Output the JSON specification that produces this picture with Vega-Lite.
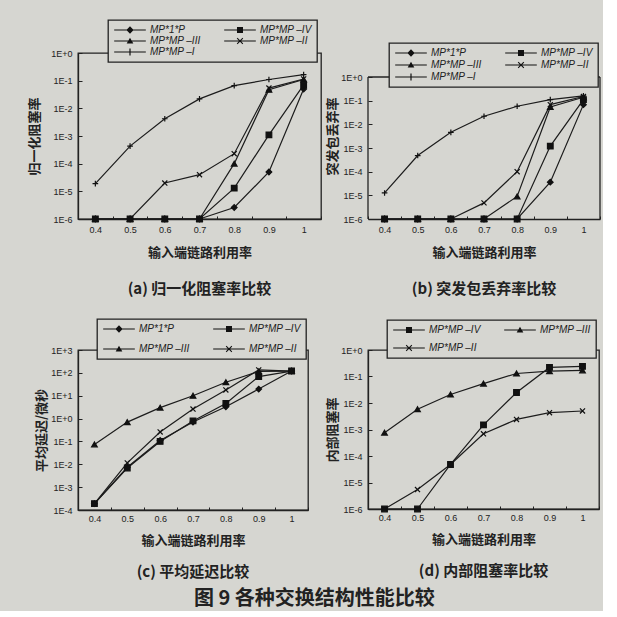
{
"$schema": "https://vega.github.io/schema/vega-lite/v6.json",
"background": "#d6d6d1",
"padding": {"left": 28, "top": 18, "right": 2, "bottom": 2},
"title": {"text": "图 9 各种交换结构性能比较", "orient": "bottom", "fontSize": 20, "offset": 8, "anchor": "middle"},
"datasets": {
"a": [
{"s":"MP*1*P","x":0.4,"y":1e-6},{"s":"MP*1*P","x":0.5,"y":1e-6},{"s":"MP*1*P","x":0.6,"y":1e-6},{"s":"MP*1*P","x":0.7,"y":1e-6},{"s":"MP*1*P","x":0.8,"y":2.6e-6},{"s":"MP*1*P","x":0.9,"y":5e-5},{"s":"MP*1*P","x":1,"y":0.05},
{"s":"MP*MP –III","x":0.4,"y":1e-6},{"s":"MP*MP –III","x":0.5,"y":1e-6},{"s":"MP*MP –III","x":0.6,"y":1e-6},{"s":"MP*MP –III","x":0.7,"y":1e-6},{"s":"MP*MP –III","x":0.8,"y":1e-4},{"s":"MP*MP –III","x":0.9,"y":0.047},{"s":"MP*MP –III","x":1,"y":0.11},
{"s":"MP*MP –II","x":0.4,"y":1e-6},{"s":"MP*MP –II","x":0.5,"y":1e-6},{"s":"MP*MP –II","x":0.6,"y":2e-5},{"s":"MP*MP –II","x":0.7,"y":4e-5},{"s":"MP*MP –II","x":0.8,"y":2.3e-4},{"s":"MP*MP –II","x":0.9,"y":0.054},{"s":"MP*MP –II","x":1,"y":0.115},
{"s":"MP*MP –I","x":0.4,"y":1.9e-5},{"s":"MP*MP –I","x":0.5,"y":4.3e-4},{"s":"MP*MP –I","x":0.6,"y":4.2e-3},{"s":"MP*MP –I","x":0.7,"y":0.022},{"s":"MP*MP –I","x":0.8,"y":0.066},{"s":"MP*MP –I","x":0.9,"y":0.11},{"s":"MP*MP –I","x":1,"y":0.165},
{"s":"MP*MP –IV","x":0.4,"y":1e-6},{"s":"MP*MP –IV","x":0.5,"y":1e-6},{"s":"MP*MP –IV","x":0.6,"y":1e-6},{"s":"MP*MP –IV","x":0.7,"y":1e-6},{"s":"MP*MP –IV","x":0.8,"y":1.3e-5},{"s":"MP*MP –IV","x":0.9,"y":1.1e-3},{"s":"MP*MP –IV","x":1,"y":0.07}
],
"b": [
{"s":"MP*1*P","x":0.4,"y":1e-6},{"s":"MP*1*P","x":0.5,"y":1e-6},{"s":"MP*1*P","x":0.6,"y":1e-6},{"s":"MP*1*P","x":0.7,"y":1e-6},{"s":"MP*1*P","x":0.8,"y":1e-6},{"s":"MP*1*P","x":0.9,"y":3.6e-5},{"s":"MP*1*P","x":1,"y":0.068},
{"s":"MP*MP –III","x":0.4,"y":1e-6},{"s":"MP*MP –III","x":0.5,"y":1e-6},{"s":"MP*MP –III","x":0.6,"y":1e-6},{"s":"MP*MP –III","x":0.7,"y":1e-6},{"s":"MP*MP –III","x":0.8,"y":9e-6},{"s":"MP*MP –III","x":0.9,"y":0.054},{"s":"MP*MP –III","x":1,"y":0.14},
{"s":"MP*MP –II","x":0.4,"y":1e-6},{"s":"MP*MP –II","x":0.5,"y":1e-6},{"s":"MP*MP –II","x":0.6,"y":1e-6},{"s":"MP*MP –II","x":0.7,"y":4.8e-6},{"s":"MP*MP –II","x":0.8,"y":1e-4},{"s":"MP*MP –II","x":0.9,"y":0.068},{"s":"MP*MP –II","x":1,"y":0.15},
{"s":"MP*MP –I","x":0.4,"y":1.26e-5},{"s":"MP*MP –I","x":0.5,"y":4.8e-4},{"s":"MP*MP –I","x":0.6,"y":4.6e-3},{"s":"MP*MP –I","x":0.7,"y":0.022},{"s":"MP*MP –I","x":0.8,"y":0.058},{"s":"MP*MP –I","x":0.9,"y":0.11},{"s":"MP*MP –I","x":1,"y":0.16},
{"s":"MP*MP –IV","x":0.4,"y":1e-6},{"s":"MP*MP –IV","x":0.5,"y":1e-6},{"s":"MP*MP –IV","x":0.6,"y":1e-6},{"s":"MP*MP –IV","x":0.7,"y":1e-6},{"s":"MP*MP –IV","x":0.8,"y":1e-6},{"s":"MP*MP –IV","x":0.9,"y":1.2e-3},{"s":"MP*MP –IV","x":1,"y":0.11}
],
"c": [
{"s":"MP*1*P","x":0.4,"y":1.9e-4},{"s":"MP*1*P","x":0.5,"y":7.4e-3},{"s":"MP*1*P","x":0.6,"y":0.11},{"s":"MP*1*P","x":0.7,"y":0.71},{"s":"MP*1*P","x":0.8,"y":3.3},{"s":"MP*1*P","x":0.9,"y":19.5},{"s":"MP*1*P","x":1,"y":120},
{"s":"MP*MP –III","x":0.4,"y":0.074},{"s":"MP*MP –III","x":0.5,"y":0.7},{"s":"MP*MP –III","x":0.6,"y":3.0},{"s":"MP*MP –III","x":0.7,"y":10},{"s":"MP*MP –III","x":0.8,"y":39},{"s":"MP*MP –III","x":0.9,"y":115},{"s":"MP*MP –III","x":1,"y":120},
{"s":"MP*MP –II","x":0.4,"y":1.9e-4},{"s":"MP*MP –II","x":0.5,"y":0.0115},{"s":"MP*MP –II","x":0.6,"y":0.26},{"s":"MP*MP –II","x":0.7,"y":2.6},{"s":"MP*MP –II","x":0.8,"y":17.8},{"s":"MP*MP –II","x":0.9,"y":135},{"s":"MP*MP –II","x":1,"y":120},
{"s":"MP*MP –IV","x":0.4,"y":1.9e-4},{"s":"MP*MP –IV","x":0.5,"y":6.9e-3},{"s":"MP*MP –IV","x":0.6,"y":0.1},{"s":"MP*MP –IV","x":0.7,"y":0.79},{"s":"MP*MP –IV","x":0.8,"y":4.6},{"s":"MP*MP –IV","x":0.9,"y":69},{"s":"MP*MP –IV","x":1,"y":120}
],
"d": [
{"s":"MP*MP –III","x":0.4,"y":7.6e-4},{"s":"MP*MP –III","x":0.5,"y":5.8e-3},{"s":"MP*MP –III","x":0.6,"y":0.021},{"s":"MP*MP –III","x":0.7,"y":0.054},{"s":"MP*MP –III","x":0.8,"y":0.13},{"s":"MP*MP –III","x":0.9,"y":0.16},{"s":"MP*MP –III","x":1,"y":0.17},
{"s":"MP*MP –II","x":0.4,"y":1e-6},{"s":"MP*MP –II","x":0.5,"y":5.4e-6},{"s":"MP*MP –II","x":0.6,"y":4.8e-5},{"s":"MP*MP –II","x":0.7,"y":6.9e-4},{"s":"MP*MP –II","x":0.8,"y":2.4e-3},{"s":"MP*MP –II","x":0.9,"y":4.3e-3},{"s":"MP*MP –II","x":1,"y":5e-3},
{"s":"MP*MP –IV","x":0.4,"y":1e-6},{"s":"MP*MP –IV","x":0.5,"y":1e-6},{"s":"MP*MP –IV","x":0.6,"y":4.8e-5},{"s":"MP*MP –IV","x":0.7,"y":1.5e-3},{"s":"MP*MP –IV","x":0.8,"y":0.025},{"s":"MP*MP –IV","x":0.9,"y":0.22},{"s":"MP*MP –IV","x":1,"y":0.24}
]
},
"concat": [
{
"width": 243, "height": 166,
"view": {"stroke": "#222", "strokeWidth": 1.3},
"data": {"name": "a"},
"title": {"text": "(a) 归一化阻塞率比较", "orient": "bottom", "offset": 23},
"encoding": {
"x": {"field": "x", "type": "ordinal", "scale": {"type": "band", "paddingInner": 0, "paddingOuter": 0}, "axis": {"title": "输入端链路利用率", "titlePadding": 12}},
"y": {"field": "y", "type": "quantitative", "scale": {"type": "log", "domain": [1e-6, 1]}, "axis": {"title": "归一化阻塞率", "titlePadding": 9, "values": [1e-6,1e-5,1e-4,1e-3,1e-2,1e-1,1]}}
},
"layer": [
{"mark": {"type": "line", "color": "#1c1c1c", "strokeWidth": 1.2}, "encoding": {"detail": {"field": "s"}}},
{"mark": {"type": "point", "filled": true, "color": "#111", "stroke": "#111", "strokeWidth": 1.2, "size": 32, "opacity": 1}, "encoding": {"shape": {"field": "s", "type": "nominal", "scale": {"domain": ["MP*1*P","MP*MP –III","MP*MP –I","MP*MP –IV","MP*MP –II"], "range": ["diamond","triangle-up","M0,-1L0,1M-1,0L1,0","square","M-0.9,-0.9L0.9,0.9M-0.9,0.9L0.9,-0.9"]}, "legend": null}}},
{"transform": [{"filter": "false"}], "mark": {"type": "point", "filled": true, "fill": "#111"}, "encoding": {"shape": {"field": "s", "type": "nominal", "scale": {"domain": ["MP*1*P","MP*MP –III","MP*MP –I","MP*MP –IV","MP*MP –II"], "range": ["M-5,-0.19L5,-0.19L5,0.19L-5,0.19ZM0,-1.15L1.15,0L0,1.15L-1.15,0Z","M-5,-0.19L5,-0.19L5,0.19L-5,0.19ZM0,-1.05L1.05,0.8L-1.05,0.8Z","M-5,-0.19L5,-0.19L5,0.19L-5,0.19ZM-0.19,-1.1L0.19,-1.1L0.19,1.1L-0.19,1.1Z","M-5,-0.19L5,-0.19L5,0.19L-5,0.19ZM-0.95,-0.95L0.95,-0.95L0.95,0.95L-0.95,0.95Z","M-5,-0.19L5,-0.19L5,0.19L-5,0.19ZM-0.78,-1.02L1.02,0.78L0.78,1.02L-1.02,-0.78ZM-1.02,0.78L0.78,-1.02L1.02,-0.78L-0.78,1.02Z"]}, "legend": {"title": null, "orient": "none", "legendX": 30, "legendY": -33, "columns": 2, "rowPadding": 1, "encode": {"symbols": {"update": {"fill": {"value": "#111"}, "opacity": {"value": 1}}}}}}}}
],
"resolve": {"scale": {"shape": "independent"}, "legend": {"shape": "independent"}}
},
{
"width": 232, "height": 166,
"view": {"stroke": null},
"title": {"text": "(b) 突发包丢弃率比较", "orient": "bottom", "offset": 23},
"layer": [
{"data": {"values": [{"t": 1}]}, "mark": {"type": "rule", "color": "#222", "strokeWidth": 1.3}, "encoding": {"y": {"datum": 1, "type": "quantitative"}}},
{"data": {"values": [{"t": 1}]}, "mark": {"type": "rule", "color": "#222", "strokeWidth": 1.3}, "encoding": {"x": {"datum": 0.4, "type": "ordinal", "bandPosition": 0}, "y": {"datum": 1e-6, "type": "quantitative"}, "y2": {"datum": 1}}},
{"data": {"values": [{"t": 1}]}, "mark": {"type": "rule", "color": "#222", "strokeWidth": 1.3}, "encoding": {"x": {"datum": 1, "type": "ordinal", "bandPosition": 1}, "y": {"datum": 1e-6, "type": "quantitative"}, "y2": {"datum": 1}}},
{"data": {"name": "b"}, "mark": {"type": "line", "color": "#1c1c1c", "strokeWidth": 1.2}, "encoding": {
"x": {"field": "x", "type": "ordinal", "scale": {"type": "band", "paddingInner": 0, "paddingOuter": 0}, "axis": {"title": "输入端链路利用率", "titlePadding": 12}},
"y": {"field": "y", "type": "quantitative", "scale": {"type": "log", "domain": [1e-6, 10.33], "nice": false}, "axis": {"title": "突发包丢弃率", "titlePadding": 1, "domain": false, "values": [1e-6,1e-5,1e-4,1e-3,1e-2,1e-1,1]}},
"detail": {"field": "s"}}},
{"data": {"name": "b"}, "mark": {"type": "point", "filled": true, "color": "#111", "stroke": "#111", "strokeWidth": 1.2, "size": 32, "opacity": 1}, "encoding": {"x": {"field": "x", "type": "ordinal"}, "y": {"field": "y", "type": "quantitative"}, "shape": {"field": "s", "type": "nominal", "scale": {"domain": ["MP*1*P","MP*MP –III","MP*MP –I","MP*MP –IV","MP*MP –II"], "range": ["diamond","triangle-up","M0,-1L0,1M-1,0L1,0","square","M-0.9,-0.9L0.9,0.9M-0.9,0.9L0.9,-0.9"]}, "legend": null}}},
{"data": {"name": "b"}, "transform": [{"filter": "false"}], "mark": {"type": "point", "filled": true, "fill": "#111"}, "encoding": {"x": {"field": "x", "type": "ordinal"}, "y": {"field": "y", "type": "quantitative"}, "shape": {"field": "s", "type": "nominal", "scale": {"domain": ["MP*1*P","MP*MP –III","MP*MP –I","MP*MP –IV","MP*MP –II"], "range": ["M-5,-0.19L5,-0.19L5,0.19L-5,0.19ZM0,-1.15L1.15,0L0,1.15L-1.15,0Z","M-5,-0.19L5,-0.19L5,0.19L-5,0.19ZM0,-1.05L1.05,0.8L-1.05,0.8Z","M-5,-0.19L5,-0.19L5,0.19L-5,0.19ZM-0.19,-1.1L0.19,-1.1L0.19,1.1L-0.19,1.1Z","M-5,-0.19L5,-0.19L5,0.19L-5,0.19ZM-0.95,-0.95L0.95,-0.95L0.95,0.95L-0.95,0.95Z","M-5,-0.19L5,-0.19L5,0.19L-5,0.19ZM-0.78,-1.02L1.02,0.78L0.78,1.02L-1.02,-0.78ZM-1.02,0.78L0.78,-1.02L1.02,-0.78L-0.78,1.02Z"]}, "legend": {"title": null, "orient": "none", "legendX": 21, "legendY": -10, "columns": 2, "rowPadding": 2, "encode": {"symbols": {"update": {"fill": {"value": "#111"}, "opacity": {"value": 1}}}}}}}}
],
"resolve": {"scale": {"shape": "independent"}, "legend": {"shape": "independent"}}
},
{
"width": 230, "height": 160,
"view": {"stroke": "#222", "strokeWidth": 1.3},
"data": {"name": "c"},
"title": {"text": "(c) 平均延迟比较", "orient": "bottom", "offset": 18},
"encoding": {
"x": {"field": "x", "type": "ordinal", "scale": {"type": "band", "paddingInner": 0, "paddingOuter": 0}, "axis": {"title": "输入端链路利用率", "labelPadding": 7, "titlePadding": 11}},
"y": {"field": "y", "type": "quantitative", "scale": {"type": "log", "domain": [1e-4, 1000]}, "axis": {"title": "平均延迟/微秒", "titlePadding": 2, "values": [1e-4,1e-3,1e-2,1e-1,1,10,100,1000]}}
},
"layer": [
{"mark": {"type": "line", "color": "#1c1c1c", "strokeWidth": 1.2}, "encoding": {"detail": {"field": "s"}}},
{"mark": {"type": "point", "filled": true, "color": "#111", "stroke": "#111", "strokeWidth": 1.2, "size": 32, "opacity": 1}, "encoding": {"shape": {"field": "s", "type": "nominal", "scale": {"domain": ["MP*1*P","MP*MP –III","MP*MP –IV","MP*MP –II"], "range": ["diamond","triangle-up","square","M-0.9,-0.9L0.9,0.9M-0.9,0.9L0.9,-0.9"]}, "legend": null}}},
{"transform": [{"filter": "false"}], "mark": {"type": "point", "filled": true, "fill": "#111"}, "encoding": {"shape": {"field": "s", "type": "nominal", "scale": {"domain": ["MP*1*P","MP*MP –III","MP*MP –IV","MP*MP –II"], "range": ["M-5,-0.19L5,-0.19L5,0.19L-5,0.19ZM0,-1.15L1.15,0L0,1.15L-1.15,0Z","M-5,-0.19L5,-0.19L5,0.19L-5,0.19ZM0,-1.05L1.05,0.8L-1.05,0.8Z","M-5,-0.19L5,-0.19L5,0.19L-5,0.19ZM-0.95,-0.95L0.95,-0.95L0.95,0.95L-0.95,0.95Z","M-5,-0.19L5,-0.19L5,0.19L-5,0.19ZM-0.78,-1.02L1.02,0.78L0.78,1.02L-1.02,-0.78ZM-1.02,0.78L0.78,-1.02L1.02,-0.78L-0.78,1.02Z"]}, "legend": {"title": null, "orient": "none", "legendX": 19, "legendY": -31, "columns": 2, "rowPadding": 10, "encode": {"symbols": {"update": {"fill": {"value": "#111"}, "opacity": {"value": 1}}}}}}}}
],
"resolve": {"scale": {"shape": "independent"}, "legend": {"shape": "independent"}}
},
{
"width": 231, "height": 159,
"view": {"stroke": "#222", "strokeWidth": 1.3},
"data": {"name": "d"},
"title": {"text": "(d) 内部阻塞率比较", "orient": "bottom", "offset": 18},
"encoding": {
"x": {"field": "x", "type": "ordinal", "scale": {"type": "band", "paddingInner": 0, "paddingOuter": 0}, "axis": {"title": "输入端链路利用率", "labelPadding": 7, "titlePadding": 11}},
"y": {"field": "y", "type": "quantitative", "scale": {"type": "log", "domain": [1e-6, 1]}, "axis": {"title": "内部阻塞率", "titlePadding": 1, "values": [1e-6,1e-5,1e-4,1e-3,1e-2,1e-1,1]}}
},
"layer": [
{"mark": {"type": "line", "color": "#1c1c1c", "strokeWidth": 1.2}, "encoding": {"detail": {"field": "s"}}},
{"mark": {"type": "point", "filled": true, "color": "#111", "stroke": "#111", "strokeWidth": 1.2, "size": 32, "opacity": 1}, "encoding": {"shape": {"field": "s", "type": "nominal", "scale": {"domain": ["MP*MP –IV","MP*MP –II","MP*MP –III"], "range": ["square","M-0.9,-0.9L0.9,0.9M-0.9,0.9L0.9,-0.9","triangle-up"]}, "legend": null}}},
{"transform": [{"filter": "false"}], "mark": {"type": "point", "filled": true, "fill": "#111"}, "encoding": {"shape": {"field": "s", "type": "nominal", "scale": {"domain": ["MP*MP –IV","MP*MP –II","MP*MP –III"], "range": ["M-5,-0.19L5,-0.19L5,0.19L-5,0.19ZM-0.95,-0.95L0.95,-0.95L0.95,0.95L-0.95,0.95Z","M-5,-0.19L5,-0.19L5,0.19L-5,0.19ZM-0.78,-1.02L1.02,0.78L0.78,1.02L-1.02,-0.78ZM-1.02,0.78L0.78,-1.02L1.02,-0.78L-0.78,1.02Z","M-5,-0.19L5,-0.19L5,0.19L-5,0.19ZM0,-1.05L1.05,0.8L-1.05,0.8Z"]}, "legend": {"title": null, "orient": "none", "legendX": 19, "legendY": -30, "columns": 2, "rowPadding": 8, "encode": {"symbols": {"update": {"fill": {"value": "#111"}, "opacity": {"value": 1}}}}}}}}
],
"resolve": {"scale": {"shape": "independent"}, "legend": {"shape": "independent"}}
}
],
"columns": 2, "spacing": {"row": 19, "column": 3},
"resolve": {"scale": {"shape": "independent"}, "legend": {"shape": "independent"}},
"config": {
"font": "Liberation Sans",
"axis": {"grid": false, "domainColor": "#222", "domainWidth": 1.3, "tickColor": "#222", "tickWidth": 1, "labelFont": "Liberation Sans", "labelFontSize": 9, "labelColor": "#222", "titleFont": "Noto Sans CJK SC", "titleFontSize": 13, "titleFontWeight": "bold", "titleColor": "#222"},
"axisY": {"tickSize": -4, "labelPadding": 10, "labelExpr": "'1E' + (datum.value >= 1 ? '+' : '-') + abs(round(log(datum.value) / LN10))"},
"axisX": {"tickSize": -3, "tickBand": "extent", "labelAngle": 0, "labelPadding": 9},
"legend": {"strokeColor": "#222", "strokeWidth": 1.3, "fillColor": "#d6d6d1", "padding": 5, "labelFont": "Liberation Sans", "labelFontStyle": "italic", "labelFontSize": 10, "labelColor": "#222", "symbolSize": 40, "symbolFillColor": "#111", "symbolStrokeWidth": 0, "symbolOpacity": 1, "symbolOffset": 12, "labelOffset": 15, "columnPadding": 22},
"title": {"font": "Noto Sans CJK SC", "fontSize": 15, "fontWeight": "bold", "color": "#222"}
}
}
